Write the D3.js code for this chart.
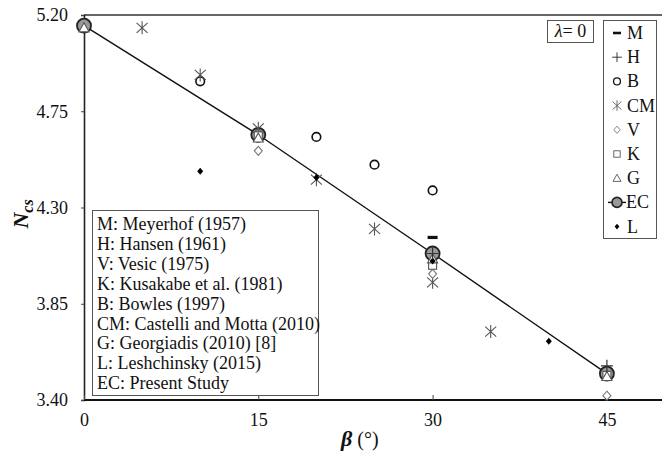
<!DOCTYPE html>
<html>
<head>
<meta charset="utf-8">
<script src="https://cdn.jsdelivr.net/npm/d3@7"></script>
<style>
  html, body { margin: 0; padding: 0; background: #fff; }
  svg { display: block; }
</style>
</head>
<body>
<div id="chart"></div>
<script>
// Bearing capacity factor N_cs versus slope angle beta (lambda = 0)
const betaTicks = [0, 15, 30, 45];
const nTicks = [3.40, 3.85, 4.30, 4.75, 5.20];

const M  = [[30, 4.16]];
const H  = [[30, 4.085], [45, 3.56]];
const B  = [[10, 4.89], [20, 4.63], [25, 4.50], [30, 4.38]];
const CM = [[5, 5.14], [10, 4.92], [15, 4.67], [20, 4.43], [25, 4.20], [30, 3.95], [35, 3.72]];
const V  = [[15, 4.565], [30, 3.99], [45, 3.42]];
const K  = [[15, 4.635], [30, 4.03], [45, 3.515]];
const G  = [[0, 5.14], [15, 4.625], [30, 4.06], [45, 3.51]];
const EC = [[0, 5.15], [15, 4.64], [30, 4.085], [45, 3.523]];
const L  = [[10, 4.47], [20, 4.44], [30, 4.05], [40, 3.675]];

const legendKeys = ["M", "H", "B", "CM", "V", "K", "G", "EC", "L"];
const sourceNotes = [
  "M: Meyerhof (1957)",
  "H: Hansen (1961)",
  "V: Vesic (1975)",
  "K: Kusakabe et al. (1981)",
  "B: Bowles (1997)",
  "CM: Castelli and Motta (2010)",
  "G: Georgiadis (2010) [8]",
  "L: Leshchinsky (2015)",
  "EC: Present Study"
];

const SERIF = "Liberation Serif";
const W = 662, Hgt = 456;
const svg = d3.select("#chart").append("svg").attr("width", W).attr("height", Hgt)
  .style("font-family", SERIF);

const x = d3.scaleLinear().domain([0, 50]).range([84, 665]);
const y = d3.scaleLinear().domain([3.40, 5.20]).range([400, 15]);

// frame: top border and axes
svg.append("line").attr("x1", 84).attr("x2", W).attr("y1", y(5.20)).attr("y2", y(5.20))
  .attr("stroke", "#666").attr("stroke-width", 2);

const yAxis = svg.append("g").attr("transform", `translate(${x(0)},0)`)
  .call(d3.axisLeft(y).tickValues(nTicks).tickFormat(d3.format(".2f")).tickSize(3).tickPadding(13));
yAxis.attr("font-family", null);
yAxis.select(".domain").attr("stroke", "#222").attr("stroke-width", 1.6);
yAxis.selectAll(".tick line").attr("stroke", "#444");
yAxis.selectAll(".tick text").style("font-family", SERIF).style("font-size", "18px").attr("fill", "#111");

const xAxis = svg.append("g").attr("transform", `translate(0,${y(3.40)})`)
  .call(d3.axisBottom(x).tickValues(betaTicks).tickFormat(d3.format("d")).tickSize(-5).tickPadding(13));
xAxis.attr("font-family", null);
xAxis.select(".domain").attr("stroke", "#111").attr("stroke-width", 2).attr("d", `M${x(0)},0H${W}`);
xAxis.selectAll(".tick line").attr("stroke", "#444");
xAxis.selectAll(".tick text").style("font-family", SERIF).style("font-size", "18px").attr("fill", "#111");

// axis titles
const yl = svg.append("text").attr("transform", `translate(28,214) rotate(-90)`)
  .attr("text-anchor", "middle").style("font-family", SERIF).style("font-size", "22px")
  .attr("font-weight", "bold").attr("font-style", "italic").attr("fill", "#111");
yl.append("tspan").text("N");
yl.append("tspan").style("font-size", "16px").attr("dy", 5).text("cs");

const xl = svg.append("text").attr("x", 341).attr("y", 446).style("font-family", SERIF)
  .style("font-size", "22px").attr("fill", "#111");
xl.append("tspan").attr("font-weight", "bold").attr("font-style", "italic").text("β");
xl.append("tspan").style("font-size", "20px").text(" (°)");

// marker shapes
const shapes = {
  M:  g => g.append("rect").attr("x", -5).attr("y", -1.6).attr("width", 10).attr("height", 3.2).attr("fill", "#111"),
  H:  g => g.append("path").attr("d", "M-6,0H6M0,-6V6").attr("stroke", "#333").attr("stroke-width", 1.2).attr("fill", "none"),
  B:  g => g.append("circle").attr("r", 4.3).attr("fill", "#fff").attr("stroke", "#111").attr("stroke-width", 1.6),
  CM: g => g.append("path").attr("d", "M0,-6.5V6.5M-5.5,-5L5.5,5M-5.5,5L5.5,-5").attr("stroke", "#555").attr("stroke-width", 1.1).attr("fill", "none"),
  V:  g => g.append("path").attr("d", "M0,-4.5L4,0L0,4.5L-4,0Z").attr("fill", "#fff").attr("stroke", "#777").attr("stroke-width", 1.1),
  K:  g => g.append("rect").attr("x", -4).attr("y", -4).attr("width", 8).attr("height", 8).attr("fill", "#fff").attr("stroke", "#555").attr("stroke-width", 1.1),
  G:  g => g.append("path").attr("d", "M0,-5L5,4L-5,4Z").attr("fill", "#fff").attr("stroke", "#555").attr("stroke-width", 1.1),
  EC: g => g.append("circle").attr("r", 7).attr("fill", "#999").attr("stroke", "#222").attr("stroke-width", 1.8),
  L:  g => g.append("path").attr("d", "M0,-3.5L3,0L0,3.5L-3,0Z").attr("fill", "#000")
};

// present-study trend line
svg.append("path").datum(EC)
  .attr("d", d3.line().x(d => x(d[0])).y(d => y(d[1])))
  .attr("fill", "none").attr("stroke", "#111").attr("stroke-width", 1.4);

const seriesData = { EC, B, CM, V, K, G, L, M, H };
["EC", "B", "CM", "V", "K", "G", "L", "M", "H"].forEach(k => {
  seriesData[k].forEach(d => {
    const g = svg.append("g").attr("transform", `translate(${x(d[0])},${y(d[1])})`);
    shapes[k](g);
  });
});

// lambda label
svg.append("rect").attr("x", 547.5).attr("y", 20.5).attr("width", 46).attr("height", 22)
  .attr("fill", "#fff").attr("stroke", "#555").attr("stroke-width", 1);
const lam = svg.append("text").attr("x", 570.5).attr("y", 37).attr("text-anchor", "middle")
  .style("font-family", SERIF).style("font-size", "18px").attr("fill", "#111");
lam.append("tspan").attr("font-style", "italic").text("λ");
lam.append("tspan").text("= 0");

// symbol legend
const lg = svg.append("g");
lg.append("rect").attr("x", 603.5).attr("y", 20.5).attr("width", 53).attr("height", 218)
  .attr("fill", "#fff").attr("stroke", "#555").attr("stroke-width", 1);
legendKeys.forEach((k, i) => {
  const cy = 33 + i * 24.2;
  const g = lg.append("g").attr("transform", `translate(617,${cy})`);
  if (k === "EC") {
    g.append("line").attr("x1", -9).attr("x2", 9).attr("stroke", "#111").attr("stroke-width", 1.4);
    g.append("circle").attr("r", 5).attr("fill", "#999").attr("stroke", "#222").attr("stroke-width", 1.6);
  } else {
    const m = g.append("g").attr("transform", "scale(0.8)");
    shapes[k](m);
  }
  lg.append("text").attr("x", k === "EC" ? 626 : 627).attr("y", cy + 6)
    .style("font-family", SERIF).style("font-size", "18px").attr("fill", "#111").text(k);
});

// source notes box
svg.append("rect").attr("x", 92.5).attr("y", 210.5).attr("width", 226).attr("height", 185)
  .attr("fill", "#fff").attr("stroke", "#555").attr("stroke-width", 1);
sourceNotes.forEach((t, i) => {
  svg.append("text").attr("x", 97).attr("y", 230 + i * 19.9)
    .style("font-family", SERIF).style("font-size", "18px").attr("fill", "#111").text(t);
});
</script>
</body>
</html>
